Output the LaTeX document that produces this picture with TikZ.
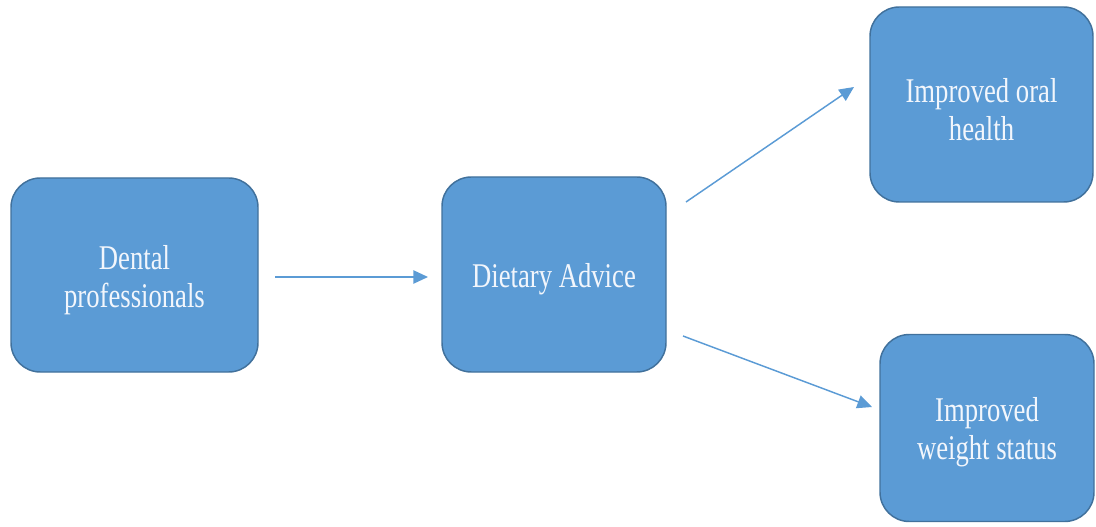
\documentclass[tikz,border=0pt]{standalone}
\usepackage{fontspec}
\setmainfont{Liberation Serif}
\usetikzlibrary{arrows.meta}
\definecolor{boxfill}{HTML}{5B9BD5}
\definecolor{boxline}{HTML}{41719C}
\definecolor{arrowc}{HTML}{5B9BD5}
\definecolor{txt}{HTML}{F2F6FC}
\newcommand{\tallline}[1]{\scalebox{1}[1.3]{#1}}
\tikzset{
  blockbox/.style={draw=boxline, line width=1.1pt, fill=boxfill, rounded corners=22pt, inner sep=0pt},
  boxtext/.style={text=txt, align=center, inner sep=0pt, yshift=-3.5pt,
    font=\fontsize{20}{28.5}\selectfont},
  flowarrow/.style={draw=arrowc, line width=1.1pt, -{Triangle[length=11pt,width=10pt]}}
}
\begin{document}
\begin{tikzpicture}[x=0.75pt,y=-0.75pt]
\useasboundingbox (0,0) rectangle (1096,527);
\node[blockbox, minimum width=185.25pt, minimum height=145.5pt,
  label={[boxtext]center:{\tallline{Dental}\\\tallline{professionals}}}] (dental) at (134.5,275) {};
\node[blockbox, minimum width=168pt, minimum height=146.25pt,
  label={[boxtext]center:{\tallline{Dietary Advice}}}] (diet) at (554,274.5) {};
\node[blockbox, minimum width=167.25pt, minimum height=146.25pt,
  label={[boxtext]center:{\tallline{Improved oral}\\\tallline{health}}}] (oral) at (981.5,104.5) {};
\node[blockbox, minimum width=160.5pt, minimum height=140.25pt,
  label={[boxtext]center:{\tallline{Improved}\\\tallline{weight status}}}] (weight) at (987,428) {};
\coordinate (a1s) at (275,277);
\coordinate (a1e) at (428,277);
\coordinate (a2s) at (686,202);
\coordinate (a2e) at (854,87);
\coordinate (a3s) at (683,336);
\coordinate (a3e) at (872,407);
\draw[flowarrow] (a1s) -- (a1e);
\draw[flowarrow] (a2s) -- (a2e);
\draw[flowarrow] (a3s) -- (a3e);
\end{tikzpicture}
\end{document}
